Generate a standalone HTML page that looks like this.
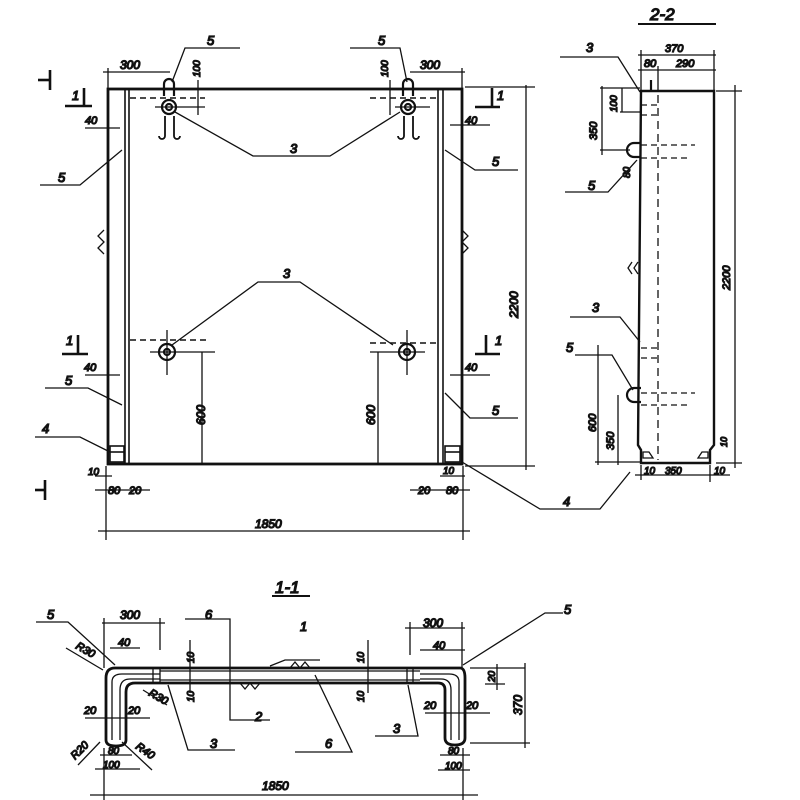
<!DOCTYPE html>
<html><head><meta charset="utf-8"><style>
html,body{margin:0;padding:0;background:#fff;width:800px;height:800px;overflow:hidden}
svg{display:block}
text{font-family:"Liberation Sans",sans-serif;font-style:italic;fill:#111}
</style></head><body>
<svg width="800" height="800" viewBox="0 0 800 800" xmlns="http://www.w3.org/2000/svg" stroke="#111" fill="none" stroke-width="1.3">
<!-- ===== Main view ===== -->
<g stroke-width="2.8">
<rect x="108" y="89" width="354" height="375"/>
</g>
<g stroke-width="1.6">
<line x1="125" y1="89" x2="125" y2="464"/><line x1="129" y1="89" x2="129" y2="464"/>
<line x1="438" y1="89" x2="438" y2="464"/><line x1="443" y1="89" x2="443" y2="464"/>
<rect x="110" y="446" width="14" height="16"/><rect x="445" y="446" width="15" height="16"/>
<line x1="110" y1="452" x2="124" y2="452"/><line x1="445" y1="452" x2="460" y2="452"/>
</g>
<g stroke-dasharray="6,4" stroke-width="1.4">
<line x1="130" y1="98" x2="205" y2="98"/><line x1="370" y1="98" x2="437" y2="98"/>
<line x1="130" y1="340" x2="208" y2="340"/><line x1="370" y1="343" x2="437" y2="343"/>
</g>
<g stroke-width="2.2">
<path d="M164 96 V84 a5 5 0 0 1 10 0 V96"/><path d="M403 96 V84 a5 5 0 0 1 10 0 V96"/>
<circle cx="169" cy="107" r="7"/><circle cx="169" cy="107" r="3"/>
<circle cx="408" cy="107" r="7"/><circle cx="408" cy="107" r="3"/>
<circle cx="167" cy="352" r="8"/><circle cx="167" cy="352" r="3"/>
<circle cx="407" cy="352" r="8"/><circle cx="407" cy="352" r="3"/>
</g>
<g stroke-width="1.3">
<path d="M165 116v20 a3 3 0 0 1 -6 0" stroke-width="1.8"/><path d="M174 116v20 a3 3 0 0 0 6 0" stroke-width="1.8"/>
<path d="M404 116v20 a3 3 0 0 1 -6 0" stroke-width="1.8"/><path d="M413 116v20 a3 3 0 0 0 6 0" stroke-width="1.8"/>
<line x1="155" y1="107" x2="205" y2="107"/><line x1="395" y1="107" x2="430" y2="107"/>
<line x1="167" y1="330" x2="167" y2="375"/><line x1="407" y1="330" x2="407" y2="375"/>
<line x1="150" y1="352" x2="215" y2="352"/><line x1="370" y1="352" x2="425" y2="352"/>
<polyline points="175,112 253,156 303,156 330,156 400,112"/>
<polyline points="172,345 258,282 300,282 393,345"/>
<polyline points="172,82 185,48 240,48"/><polyline points="407,82 400,48 350,48"/>
<line x1="202" y1="352" x2="202" y2="465"/><line x1="378" y1="352" x2="378" y2="465"/>
<line x1="198" y1="80" x2="198" y2="115"/><line x1="390" y1="80" x2="390" y2="115"/>
<line x1="103" y1="72" x2="170" y2="72"/><line x1="108" y1="68" x2="108" y2="89"/>
<line x1="410" y1="72" x2="465" y2="72"/><line x1="462" y1="68" x2="462" y2="89"/>
<line x1="465" y1="87" x2="535" y2="87"/><line x1="465" y1="466" x2="535" y2="466"/>
<line x1="526" y1="85" x2="526" y2="470"/>
<line x1="98" y1="531" x2="470" y2="531"/><line x1="106" y1="466" x2="106" y2="540"/><line x1="463" y1="466" x2="463" y2="540"/>
<line x1="95" y1="490" x2="150" y2="490"/><line x1="410" y1="490" x2="470" y2="490"/>
<line x1="95" y1="476" x2="112" y2="476"/><line x1="440" y1="476" x2="465" y2="476"/>
<polyline points="122,150 80,185 40,185"/><polyline points="445,150 475,170 518,170"/>
<polyline points="122,405 88,388 45,388"/><polyline points="445,393 470,418 518,418"/>
<polyline points="110,452 80,437 35,437"/><polyline points="462,462 540,509 600,509 630,472"/>
<line x1="85" y1="128" x2="120" y2="128"/><line x1="450" y1="125" x2="490" y2="125"/>
<line x1="85" y1="375" x2="120" y2="375"/><line x1="450" y1="375" x2="490" y2="375"/>
</g>
<g stroke-width="2.6">
<line x1="50" y1="70" x2="50" y2="90"/><line x1="38" y1="80" x2="50" y2="80"/>
<line x1="45" y1="480" x2="45" y2="500"/><line x1="35" y1="490" x2="45" y2="490"/>
<line x1="65" y1="106" x2="92" y2="106"/><line x1="475" y1="107" x2="500" y2="107"/>
<line x1="62" y1="354" x2="88" y2="354"/><line x1="475" y1="354" x2="500" y2="354"/>
<line x1="84" y1="88" x2="84" y2="106"/><line x1="492" y1="88" x2="492" y2="106"/>
<line x1="78" y1="335" x2="78" y2="354"/><line x1="486" y1="335" x2="486" y2="354"/>
</g>
<g stroke-width="1.3"><path d="M104 230l-6 6 6 6 -6 6 6 6"/><path d="M462 230l6 6 -6 6 6 6 -6 6"/></g>
<g font-size="12">
<text x="120" y="69">300</text><text x="420" y="69">300</text>
<text x="207" y="45" font-size="13">5</text><text x="378" y="45" font-size="13">5</text>
<text x="195" y="72" font-size="10" transform="rotate(-90 200 72)">100</text>
<text x="383" y="72" font-size="10" transform="rotate(-90 388 72)">100</text>
<text x="85" y="124" font-size="11">40</text><text x="465" y="124" font-size="11">40</text>
<text x="84" y="371" font-size="11">40</text><text x="465" y="371" font-size="11">40</text>
<text x="58" y="182" font-size="13">5</text><text x="492" y="166" font-size="13">5</text>
<text x="65" y="385" font-size="13">5</text><text x="492" y="415" font-size="13">5</text>
<text x="42" y="433" font-size="13">4</text><text x="563" y="506" font-size="13">4</text>
<text x="290" y="153" font-size="13">3</text><text x="283" y="278" font-size="13">3</text>
<text x="72" y="100" font-size="13">1</text><text x="497" y="100" font-size="13">1</text>
<text x="66" y="345" font-size="13">1</text><text x="495" y="345" font-size="13">1</text>
<text x="0" y="0" transform="translate(205 425) rotate(-90)">600</text>
<text x="0" y="0" transform="translate(375 425) rotate(-90)">600</text>
<text x="0" y="0" transform="translate(518 318) rotate(-90)">2200</text>
<text x="255" y="528">1850</text>
<text x="88" y="475" font-size="10">10</text><text x="443" y="474" font-size="10">10</text>
<text x="108" y="494" font-size="11">80</text><text x="129" y="494" font-size="11">20</text>
<text x="418" y="494" font-size="11">20</text><text x="446" y="494" font-size="11">80</text>
</g>
<!-- ===== Side view 2-2 ===== -->
<text x="650" y="20" font-size="17">2-2</text>
<line x1="638" y1="24" x2="716" y2="24" stroke-width="2"/>
<g stroke-width="2.4">
<path d="M641 91 H714 V445 L710 450 V463 H641 V450 L638 445 Z"/>
</g>
<g stroke-width="1.3">
<line x1="658" y1="95" x2="658" y2="460" stroke-dasharray="8,5"/>
<line x1="651" y1="80" x2="651" y2="91" stroke-width="2.2"/>
<path d="M641 143 H634 a7 7 0 0 0 0 14 H641" stroke-width="2.2"/>
<path d="M641 388 H634 a7 7 0 0 0 0 14 H641" stroke-width="2.2"/>
<path d="M643 452 l6 0 4 6 -10 0 Z"/><path d="M708 452 l-6 0 -4 6 10 0 Z"/>
<g stroke-dasharray="6,4"><line x1="641" y1="145" x2="695" y2="145"/><line x1="641" y1="158" x2="690" y2="158"/>
<line x1="641" y1="393" x2="695" y2="393"/><line x1="641" y1="405" x2="690" y2="405"/>
<line x1="641" y1="105" x2="660" y2="105"/><line x1="641" y1="115" x2="660" y2="115"/>
<line x1="641" y1="348" x2="660" y2="348"/><line x1="641" y1="358" x2="660" y2="358"/></g>
<line x1="638" y1="55" x2="716" y2="55"/><line x1="638" y1="70" x2="716" y2="70"/>
<line x1="641" y1="50" x2="641" y2="91"/><line x1="714" y1="50" x2="714" y2="91"/><line x1="658" y1="66" x2="658" y2="91"/>
<line x1="600" y1="88" x2="640" y2="88"/><line x1="600" y1="150" x2="630" y2="150"/><line x1="620" y1="112" x2="640" y2="112"/>
<line x1="602" y1="86" x2="602" y2="155"/><line x1="622" y1="88" x2="622" y2="112"/>
<line x1="598" y1="345" x2="598" y2="465"/><line x1="618" y1="395" x2="618" y2="465"/>
<line x1="595" y1="462" x2="640" y2="462"/>
<line x1="716" y1="91" x2="742" y2="91"/><line x1="716" y1="463" x2="742" y2="463"/>
<line x1="735" y1="85" x2="735" y2="468"/>
<line x1="641" y1="465" x2="641" y2="480"/><line x1="710" y1="465" x2="710" y2="482"/>
<line x1="635" y1="475" x2="730" y2="475"/>
<polyline points="640,92 618,57 560,57"/><polyline points="637,160 608,192 565,192"/>
<polyline points="640,342 620,317 570,317"/><polyline points="633,390 612,355 575,355"/>
<path d="M632 262l-4 6 4 6 M638 262l-4 6 4 6"/>
</g>
<g font-size="11">
<text x="586" y="52" font-size="13">3</text><text x="592" y="312" font-size="13">3</text>
<text x="588" y="190" font-size="13">5</text><text x="566" y="352" font-size="13">5</text>
<text x="665" y="52">370</text><text x="644" y="67">80</text><text x="676" y="67">290</text>
<text x="0" y="0" font-size="10" transform="translate(617 112) rotate(-90)">100</text>
<text x="0" y="0" transform="translate(597 140) rotate(-90)">350</text>
<text x="0" y="0" transform="translate(730 290) rotate(-90)">2200</text>
<text x="0" y="0" transform="translate(596 432) rotate(-90)">600</text>
<text x="0" y="0" transform="translate(614 450) rotate(-90)">350</text>
<text x="0" y="0" font-size="10" transform="translate(630 178) rotate(-90)">80</text>
<text x="0" y="0" font-size="9" transform="translate(727 447) rotate(-90)">10</text>
<text x="644" y="474" font-size="10">10</text><text x="665" y="474" font-size="10">350</text><text x="714" y="474" font-size="10">10</text>
</g>
<!-- ===== Section 1-1 ===== -->
<text x="275" y="593" font-size="17">1-1</text>
<line x1="272" y1="596" x2="310" y2="596" stroke-width="2"/>
<g stroke-width="2.8">
<path d="M115 668 H460 Q465 668 465 678 V738 Q465 745 455 745 Q445 745 445 738 V690 Q445 683 438 683 H135 Q126 683 126 692 V740 Q126 746 116 746 Q106 746 106 740 V678 Q106 668 115 668 Z"/>
</g>
<g stroke-width="1.3">
<path d="M112 740 V682 Q112 674 122 674 H160"/><path d="M120 740 V690 Q120 679 130 679 H160"/>
<path d="M459 740 V682 Q459 674 449 674 H420"/><path d="M451 740 V690 Q451 679 441 679 H420"/>
<line x1="160" y1="671" x2="420" y2="671"/><line x1="160" y1="680" x2="420" y2="680"/>
<line x1="153" y1="668" x2="153" y2="683"/><line x1="160" y1="668" x2="160" y2="683"/>
<line x1="407" y1="668" x2="407" y2="683"/><line x1="413" y1="668" x2="413" y2="683"/>
<path d="M290 668l5 -6 5 6 5 -6 5 6"/><path d="M240 683l5 6 5 -6 5 6 5 -6"/>
<line x1="102" y1="623" x2="165" y2="623"/><line x1="104" y1="618" x2="104" y2="668"/><line x1="160" y1="618" x2="160" y2="650"/>
<line x1="110" y1="648" x2="140" y2="648"/><line x1="405" y1="628" x2="465" y2="628"/><line x1="410" y1="622" x2="410" y2="655"/>
<line x1="462" y1="622" x2="462" y2="668"/><line x1="420" y1="650" x2="465" y2="650"/>
<line x1="470" y1="668" x2="525" y2="668"/><line x1="470" y1="743" x2="530" y2="743"/><line x1="485" y1="684" x2="505" y2="684"/>
<line x1="497" y1="664" x2="497" y2="690"/><line x1="525" y1="663" x2="525" y2="748"/>
<line x1="190" y1="640" x2="190" y2="693"/><line x1="368" y1="640" x2="368" y2="693"/>
<line x1="85" y1="718" x2="150" y2="718"/><line x1="425" y1="713" x2="490" y2="713"/>
<line x1="100" y1="755" x2="132" y2="755"/><line x1="95" y1="769" x2="140" y2="769"/>
<line x1="440" y1="755" x2="470" y2="755"/><line x1="438" y1="770" x2="470" y2="770"/>
<line x1="104" y1="748" x2="104" y2="800"/><line x1="463" y1="748" x2="463" y2="800"/>
<line x1="90" y1="795" x2="478" y2="795"/>
<polyline points="36,622 68,622 115,665"/><polyline points="563,613 545,613 463,665"/>
<polyline points="66,648 103,670"/><polyline points="143,690 167,705"/>
<polyline points="100,742 78,765"/><polyline points="122,742 152,770"/>
<polyline points="185,619 230,619 230,720 270,720"/><polyline points="270,666 285,660 320,660"/>
<polyline points="168,685 188,750 235,750"/><polyline points="408,685 418,736 375,736"/>
<polyline points="315,675 352,752 295,752"/>
</g>
<g font-size="12">
<text x="47" y="619" font-size="13">5</text><text x="564" y="614" font-size="13">5</text>
<text x="120" y="619">300</text><text x="423" y="627">300</text>
<text x="118" y="646" font-size="11">40</text><text x="433" y="649" font-size="11">40</text>
<text x="205" y="619" font-size="13">6</text><text x="300" y="631" font-size="13">1</text>
<text x="255" y="721" font-size="13">2</text><text x="210" y="748" font-size="13">3</text>
<text x="325" y="748" font-size="13">6</text><text x="393" y="733" font-size="13">3</text>
<text x="0" y="0" transform="translate(75 648) rotate(30)" font-size="11">R30</text>
<text x="0" y="0" transform="translate(148 695) rotate(30)" font-size="11">R30</text>
<text x="0" y="0" transform="translate(75 760) rotate(-45)" font-size="11">R20</text>
<text x="0" y="0" transform="translate(135 748) rotate(35)" font-size="11">R40</text>
<text x="84" y="714" font-size="11">20</text><text x="128" y="714" font-size="11">20</text>
<text x="424" y="709" font-size="11">20</text><text x="466" y="709" font-size="11">20</text>
<text x="108" y="754" font-size="10">80</text><text x="103" y="768" font-size="10">100</text>
<text x="448" y="754" font-size="10">80</text><text x="445" y="769" font-size="10">100</text>
<text x="0" y="0" font-size="10" transform="translate(194 663) rotate(-90)">10</text>
<text x="0" y="0" font-size="10" transform="translate(194 702) rotate(-90)">10</text>
<text x="0" y="0" font-size="10" transform="translate(364 663) rotate(-90)">10</text>
<text x="0" y="0" font-size="10" transform="translate(364 702) rotate(-90)">10</text>
<text x="0" y="0" font-size="10" transform="translate(495 682) rotate(-90)">20</text>
<text x="0" y="0" transform="translate(522 715) rotate(-90)">370</text>
<text x="262" y="790">1850</text>
</g>
</svg>
</body></html>
